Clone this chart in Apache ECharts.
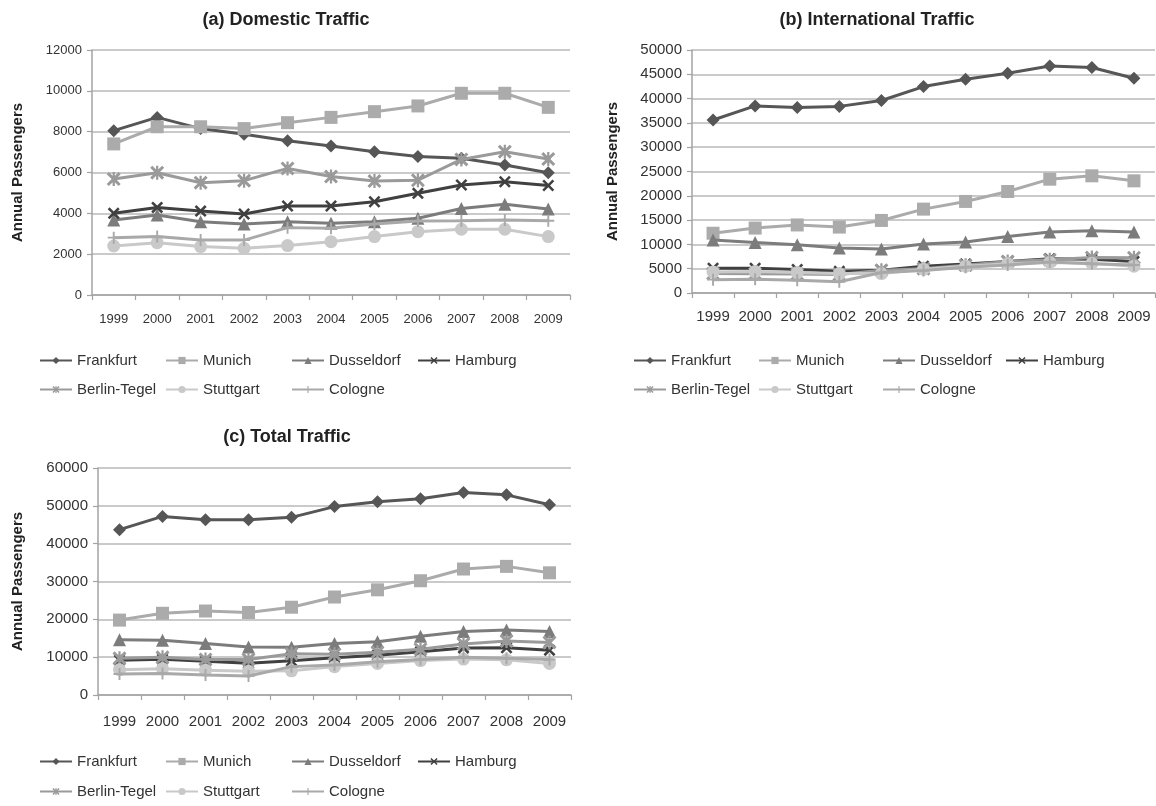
<!DOCTYPE html>
<html><head><meta charset="utf-8">
<script src="https://cdn.jsdelivr.net/npm/echarts/dist/echarts.min.js"></script>
<style>html,body{margin:0;padding:0;background:#fff}#c{width:1156px;height:806px}</style>
</head><body><div id="c"></div>
<script>
// ---- data ----
const years = ['1999','2000','2001','2002','2003','2004','2005','2006','2007','2008','2009'];
const airports = ['Frankfurt','Munich','Dusseldorf','Hamburg','Berlin-Tegel','Stuttgart','Cologne'];

// (a) Domestic traffic
const domFrankfurt  = [8050, 8700, 8150, 7870, 7560, 7300, 7020, 6780, 6700, 6370, 5990];
const domMunich     = [7400, 8240, 8240, 8150, 8440, 8700, 8980, 9260, 9880, 9880, 9190];
const domDusseldorf = [3670, 3920, 3590, 3480, 3590, 3510, 3590, 3760, 4240, 4440, 4210];
const domHamburg    = [4000, 4290, 4110, 3970, 4360, 4360, 4570, 4980, 5390, 5550, 5360];
const domBerlin     = [5680, 5990, 5500, 5600, 6200, 5800, 5580, 5620, 6640, 7020, 6660];
const domStuttgart  = [2400, 2560, 2370, 2290, 2420, 2610, 2860, 3100, 3220, 3220, 2860];
const domCologne    = [2810, 2860, 2690, 2690, 3300, 3270, 3480, 3620, 3640, 3670, 3640];

// (b) International traffic
const intFrankfurt  = [35600, 38500, 38150, 38400, 39600, 42470, 43970, 45200, 46700, 46400, 44200];
const intMunich     = [12300, 13360, 14000, 13560, 14930, 17260, 18840, 20890, 23420, 24110, 23080];
const intDusseldorf = [10900, 10400, 9930, 9250, 9040, 10070, 10480, 11640, 12530, 12800, 12530];
const intHamburg    = [5100, 5100, 4850, 4450, 4700, 5500, 5950, 6500, 7050, 6950, 6500];
const intBerlin     = [4000, 3980, 3900, 3800, 4700, 5000, 5700, 6500, 6850, 7300, 7250];
const intStuttgart  = [4300, 4400, 4200, 4000, 4000, 4900, 5500, 6000, 6300, 6100, 5500];
const intCologne    = [2750, 2840, 2610, 2300, 4200, 4630, 5320, 5780, 6360, 6030, 5760];

// (c) Total traffic
const totFrankfurt  = [43700, 47200, 46300, 46300, 46950, 49800, 51100, 51900, 53500, 52900, 50300];
const totMunich     = [19800, 21600, 22200, 21800, 23200, 25900, 27800, 30200, 33300, 34000, 32300];
const totDusseldorf = [14600, 14500, 13600, 12700, 12600, 13600, 14100, 15500, 16800, 17200, 16800];
const totHamburg    = [9200, 9450, 8950, 8400, 9050, 9850, 10500, 11450, 12450, 12500, 11850];
const totBerlin     = [9700, 9950, 9400, 9400, 10900, 10800, 11300, 12100, 13500, 14300, 13900];
const totStuttgart  = [6700, 6950, 6550, 6300, 6400, 7500, 8350, 9100, 9500, 9300, 8350];
const totCologne    = [5550, 5700, 5300, 5000, 7500, 7900, 8800, 9400, 10000, 9700, 9400];

const panelTitles = ['(a) Domestic Traffic', '(b) International Traffic', '(c) Total Traffic'];
const yMax = [12000, 50000, 60000];
const yInterval = [2000, 5000, 10000];
const yName = 'Annual Passengers';

const panelData = [
  [domFrankfurt, domMunich, domDusseldorf, domHamburg, domBerlin, domStuttgart, domCologne],
  [intFrankfurt, intMunich, intDusseldorf, intHamburg, intBerlin, intStuttgart, intCologne],
  [totFrankfurt, totMunich, totDusseldorf, totHamburg, totBerlin, totStuttgart, totCologne]
];

// ---- styles ----
const FONT = '"Liberation Sans", Arial, Helvetica, sans-serif';
const X_PATH = 'path://M0,1.5L1.5,0L5,3.5L8.5,0L10,1.5L6.5,5L10,8.5L8.5,10L5,6.5L1.5,10L0,8.5L3.5,5Z';
const AST_PATH = 'path://M0,1.5L1.5,0L5,3.5L8.5,0L10,1.5L6.5,5L10,8.5L8.5,10L5,6.5L1.5,10L0,8.5L3.5,5Z M4.2,0L5.8,0L5.8,10L4.2,10Z';
const PLUS_PATH = 'path://M4.2,0L5.8,0L5.8,10L4.2,10Z M0,4.2L10,4.2L10,5.8L0,5.8Z';
const seriesStyle = [
  {color:'#565656', symbol:'diamond', size:13},
  {color:'#ababab', symbol:'rect', size:13},
  {color:'#7c7c7c', symbol:'triangle', size:13},
  {color:'#404040', symbol:X_PATH, size:12},
  {color:'#9a9a9a', symbol:AST_PATH, size:14},
  {color:'#c9c9c9', symbol:'circle', size:13},
  {color:'#a9a9a9', symbol:PLUS_PATH, size:12}
];

const grids = [
  {left:92, top:50, width:478, height:245},
  {left:692, top:50, width:463, height:243},
  {left:98, top:468, width:473, height:227}
];
const tickFont = [13, 15, 15];
const xMargin = [18, 16, 19];
const nameGap = [67, 72, 73];
const titlePos = [[286, 11], [877, 11], [287, 428]];
const legendCols = [[39, 165, 291, 417], [633, 758, 882, 1005], [39, 165, 291, 417]];
const legendRows = [[362, 391], [362, 391], [763, 793]];

const axisColor = '#a3a3a3';
const textColor = '#333';

const option = {
  backgroundColor: '#fff',
  animation: false,
  title: panelTitles.map((t, i) => ({
    text: t, left: titlePos[i][0], top: titlePos[i][1], textAlign: 'center', padding: 0,
    textStyle: {fontFamily: FONT, fontSize: 18, fontWeight: 'bold', color: '#222'}
  })),
  grid: grids.map(g => Object.assign({containLabel: false, outerBoundsMode: 'none'}, g)),
  xAxis: grids.map((g, i) => ({
    type: 'category', gridIndex: i, data: years, boundaryGap: true,
    axisLine: {show: true, lineStyle: {color: axisColor, width: 1.5}},
    axisTick: {show: true, alignWithLabel: false, length: 5, lineStyle: {color: axisColor, width: 1.2}},
    axisLabel: {fontFamily: FONT, fontSize: tickFont[i], color: textColor, margin: xMargin[i], interval: 0},
    splitLine: {show: false}
  })),
  yAxis: grids.map((g, i) => ({
    type: 'value', gridIndex: i, min: 0, max: yMax[i], interval: yInterval[i],
    name: yName, nameLocation: 'middle', nameGap: nameGap[i],
    nameTextStyle: {fontFamily: FONT, fontSize: 15, fontWeight: 'bold', color: '#222'},
    axisLine: {show: true, lineStyle: {color: axisColor, width: 1.5}},
    axisTick: {show: true, length: 5, lineStyle: {color: axisColor, width: 1.2}},
    axisLabel: {fontFamily: FONT, fontSize: tickFont[i], color: textColor, margin: 10,
      formatter: v => String(v)},
    splitLine: {show: true, lineStyle: {color: '#b9b9b9', width: 1.6}}
  })),
  legend: [],
  series: []
};

panelData.forEach((arrs, p) => {
  arrs.forEach((vals, j) => {
    const st = seriesStyle[j];
    option.series.push({
      type: 'line', name: airports[j], xAxisIndex: p, yAxisIndex: p, data: vals,
      symbol: st.symbol, symbolSize: st.size, showSymbol: true,
      lineStyle: {color: st.color, width: 3},
      itemStyle: {color: st.color},
      emphasis: {disabled: true}, z: 2 + j
    });
    const row = j < 4 ? 0 : 1;
    const col = j < 4 ? j : j - 4;
    option.legend.push({
      data: [airports[j]], left: legendCols[p][col], top: legendRows[p][row] - 9,
      orient: 'horizontal', padding: 0, itemWidth: 32, itemHeight: 9, itemGap: 0,
      selectedMode: false,
      textStyle: {fontFamily: FONT, fontSize: 15, color: textColor}
    });
  });
});

const chart = echarts.init(document.getElementById('c'), null, {renderer: 'canvas'});
chart.setOption(option);
</script></body></html>
